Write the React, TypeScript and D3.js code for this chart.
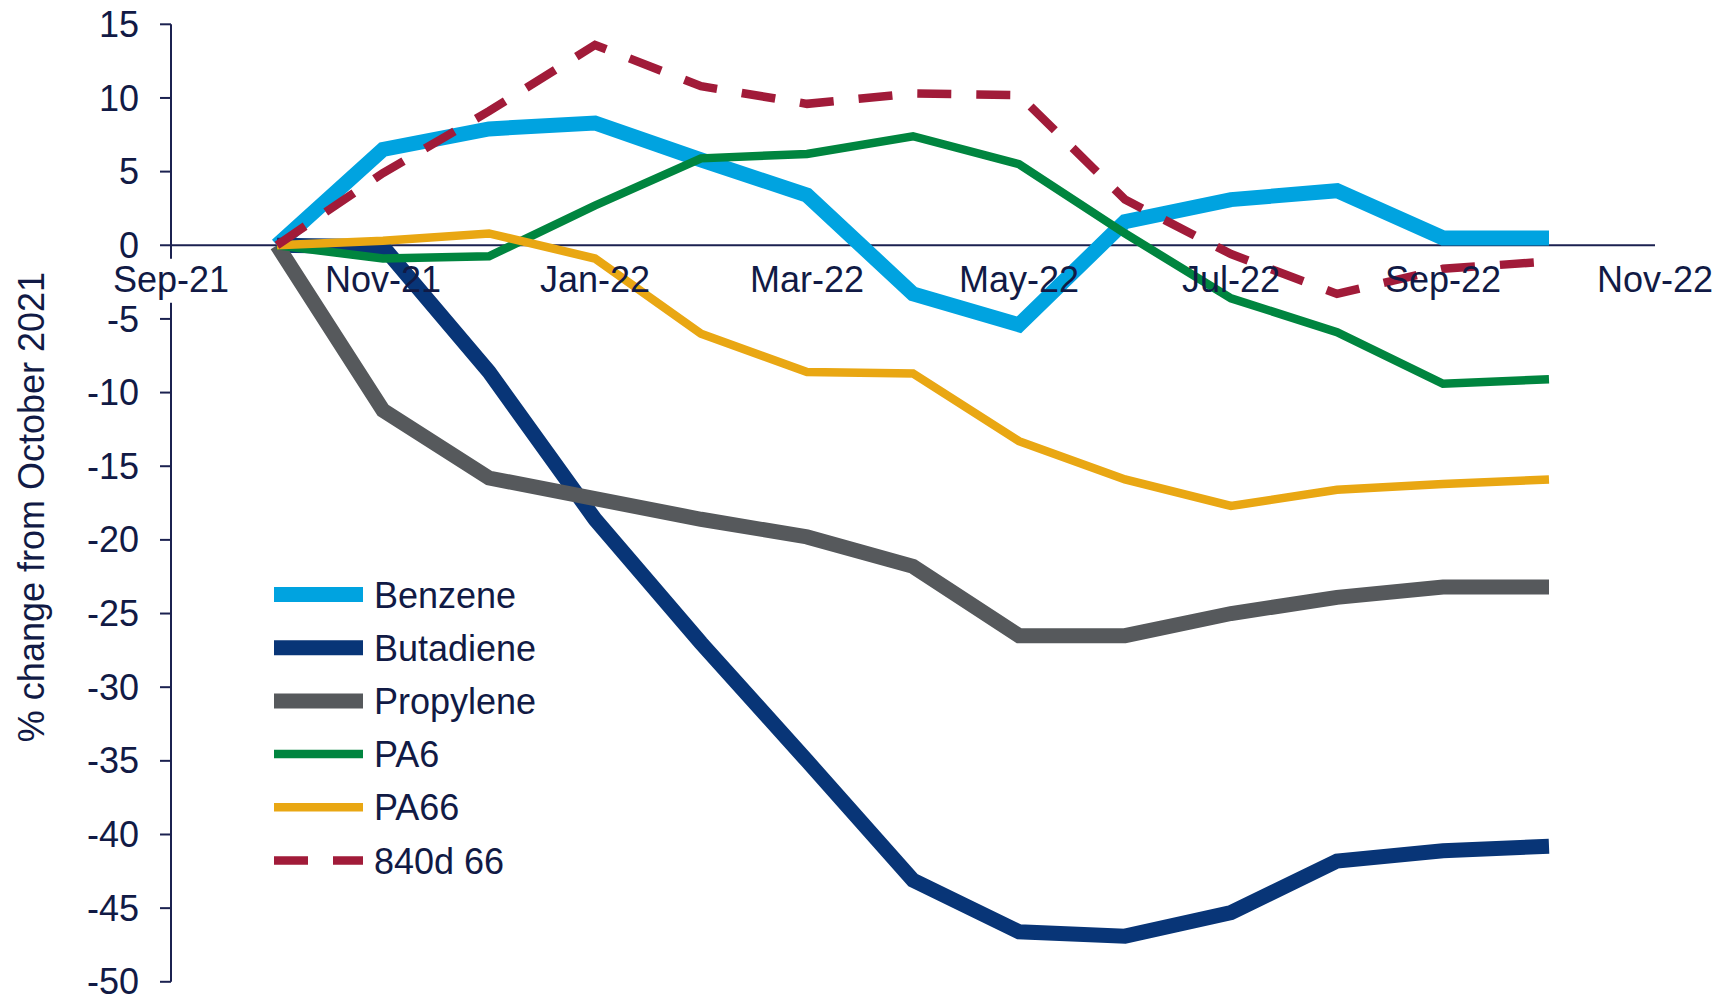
import React from "react";
import * as d3 from "d3";

// Monthly % change from October 2021 (Oct-21 .. Oct-22)
const monthIndex = [1, 2, 3, 4, 5, 6, 7, 8, 9, 10, 11, 12, 13]; // months after Sep-21
const benzene = [0, 6.5, 7.9, 8.3, 5.8, 3.4, -3.3, -5.4, 1.6, 3.1, 3.7, 0.5, 0.5];
const butadiene = [0, -0.1, -8.6, -18.6, -27.0, -35.0, -43.1, -46.6, -46.9, -45.3, -41.8, -41.1, -40.8];
const propylene = [0, -11.2, -15.8, -17.2, -18.6, -19.8, -21.8, -26.5, -26.5, -25.0, -23.9, -23.2, -23.2];
const pa6 = [0, -0.9, -0.75, 2.7, 5.9, 6.2, 7.4, 5.5, 0.8, -3.6, -5.9, -9.4, -9.1];
const pa66 = [0, 0.3, 0.8, -0.9, -6.0, -8.6, -8.7, -13.3, -15.9, -17.7, -16.6, -16.2, -15.9];
const nylon840d = [0, 4.9, 9.1, 13.6, 10.8, 9.6, 10.3, 10.2, 3.1, -0.6, -3.3, -1.6, -1.1];

const xTickLabels = ["Sep-21", "Nov-21", "Jan-22", "Mar-22", "May-22", "Jul-22", "Sep-22", "Nov-22"];
const xTickIndex = [0, 2, 4, 6, 8, 10, 12, 14];
const yTicks = [15, 10, 5, 0, -5, -10, -15, -20, -25, -30, -35, -40, -45, -50];

const seriesNames = ["Benzene", "Butadiene", "Propylene", "PA6", "PA66", "840d 66"];
const seriesValues = [benzene, butadiene, propylene, pa6, pa66, nylon840d];
const seriesColors = ["#00A3E0", "#083577", "#56595C", "#00853F", "#E9A713", "#A11B39"];
const seriesWidths = [15, 15, 15, 8.5, 8.5, 8.5];
const seriesDash = [null, null, null, null, null, "34 25"];

const W = 1734;
const H = 998;
const TEXT = "#111a45";
const AXIS = "#1b2150";
const FONT = "'Liberation Sans', Arial, sans-serif";

export default function App() {
  const x = d3.scaleLinear().domain([0, 14]).range([171, 1655]);
  const y = d3.scaleLinear().domain([-50, 15]).range([981.8, 24.3]);

  const line = d3
    .line<[number, number]>()
    .x((d) => x(d[0]))
    .y((d) => y(d[1]));

  const labelBaseline = y(0) + 46.5;

  return (
    <svg
      width={W}
      height={H}
      style={{ position: "absolute", left: 0, top: 0, background: "#fff" }}
      fontFamily={FONT}
    >
      <rect x={0} y={0} width={W} height={H} fill="#fff" />

      {/* vertical axis */}
      <line x1={x(0)} x2={x(0)} y1={y(15)} y2={y(-50)} stroke={AXIS} strokeWidth={2} />
      {yTicks.map((t) => (
        <g key={t}>
          <line x1={x(0) - 11} x2={x(0)} y1={y(t)} y2={y(t)} stroke={AXIS} strokeWidth={2} />
          <text
            x={139}
            y={y(t)}
            dy="0.35em"
            textAnchor="end"
            fontSize={36}
            fill={TEXT}
          >
            {t}
          </text>
        </g>
      ))}

      {/* horizontal axis at zero */}
      <line x1={x(0)} x2={x(14)} y1={y(0)} y2={y(0)} stroke={AXIS} strokeWidth={2} />
      <rect x={x(0) - 8} y={labelBaseline - 33} width={16} height={44} fill="#fff" />

      {/* axis title */}
      <text
        transform={`translate(44, 507) rotate(-90)`}
        textAnchor="middle"
        fontSize={36}
        fill={TEXT}
      >
        % change from October 2021
      </text>

      {/* series */}
      {seriesValues.map((vals, s) => {
        const pts: [number, number][] = vals.map((v, i) => [monthIndex[i], v]);
        return (
          <path
            key={seriesNames[s]}
            d={line(pts) || ""}
            fill="none"
            stroke={seriesColors[s]}
            strokeWidth={seriesWidths[s]}
            strokeDasharray={seriesDash[s] || undefined}
            strokeLinejoin="miter"
            strokeLinecap="butt"
          />
        );
      })}

      {/* category labels sit above the series lines */}
      {xTickLabels.map((lab, i) => (
        <text
          key={lab}
          x={x(xTickIndex[i])}
          y={labelBaseline}
          textAnchor="middle"
          fontSize={36}
          fill={TEXT}
        >
          {lab}
        </text>
      ))}

      {/* legend */}
      {seriesNames.map((name, s) => {
        const cy = 594.5 + s * 53.2;
        return (
          <g key={name}>
            <line
              x1={274}
              x2={363}
              y1={cy}
              y2={cy}
              stroke={seriesColors[s]}
              strokeWidth={seriesWidths[s]}
              strokeDasharray={seriesDash[s] || undefined}
            />
            <text x={374} y={cy + 13} fontSize={36} fill={TEXT}>
              {name}
            </text>
          </g>
        );
      })}
    </svg>
  );
}
